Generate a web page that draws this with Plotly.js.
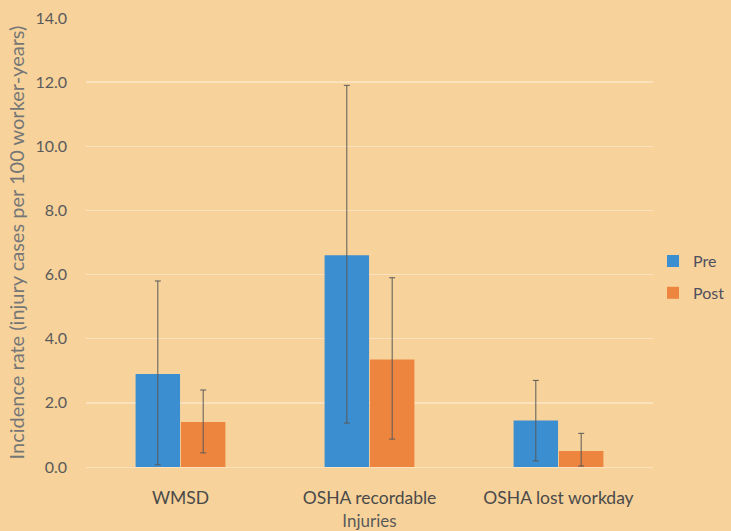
<!DOCTYPE html>
<html>
<head>
<meta charset="utf-8">
<script src="https://cdn.plot.ly/plotly-3.0.1.min.js"></script>
<style>html,body{margin:0;padding:0;background:#F7D39B;}</style>
</head>
<body>
<div id="chart" style="width:731px;height:531px;"></div>
<script>
const categories = ["WMSD", "OSHA recordable", "OSHA lost workday"];
const preValues = [2.9, 6.6, 1.45];
const preErrPlus = [2.9, 5.3, 1.25];
const preErrMinus = [2.83, 5.23, 1.26];
const postValues = [1.4, 3.35, 0.5];
const postErrPlus = [1.0, 2.55, 0.55];
const postErrMinus = [0.96, 2.48, 0.47];
const yTicks = [0, 2, 4, 6, 8, 10, 12, 14];

const fam = "Lato, 'Open Sans', sans-serif";
const errStyle = {type: "data", symmetric: false, color: "#595959", thickness: 1, width: 3};

const traces = [
  {type: "bar", name: "Pre", x: categories, y: preValues, legendgroup: "pre",
   marker: {color: "#3B8ED0"},
   error_y: Object.assign({array: preErrPlus, arrayminus: preErrMinus}, errStyle)},
  {type: "bar", name: "Post", x: categories, y: postValues, legendgroup: "post",
   marker: {color: "#EE853F"},
   error_y: Object.assign({array: postErrPlus, arrayminus: postErrMinus}, errStyle)}
];

const layout = {
  width: 731, height: 531,
  paper_bgcolor: "#F7D39B", plot_bgcolor: "#F7D39B",
  font: {family: fam, size: 16, color: "#5a5a5a"},
  margin: {l: 86, r: 78, t: 18, b: 64, autoexpand: false},
  barmode: "group", bargap: 0.52, bargroupgap: 0.02,
  showlegend: true,
  legend: {x: 1.0, y: 0.423, xanchor: "left", yanchor: "middle",
           bgcolor: "rgba(0,0,0,0)", font: {family: fam, size: 16, color: "#4f4f5f"},
           itemwidth: 30, tracegroupgap: 8},
  xaxis: {title: {text: "Injuries", font: {size: 17, color: "#5a5a5a"}, standoff: 8},
          showline: false, ticks: "", ticklabelstandoff: 18,
          tickfont: {size: 17.5, color: "#4a4a4a"}},
  yaxis: {title: {text: "Incidence rate (injury cases per 100 worker-years)", font: {size: 20, color: "#767676"}, standoff: 5},
          range: [0, 14], tickvals: yTicks, tickformat: ".1f",
          gridcolor: "#FBE2BC", gridwidth: 1.5, zeroline: true, zerolinecolor: "#FBE2BC",
          showline: false, ticks: "", ticklabelstandoff: 18,
          tickfont: {size: 16, color: "#5a5a5a"}}
};

Plotly.newPlot("chart", traces, layout, {displayModeBar: false, staticPlot: true});
</script>
</body>
</html>
